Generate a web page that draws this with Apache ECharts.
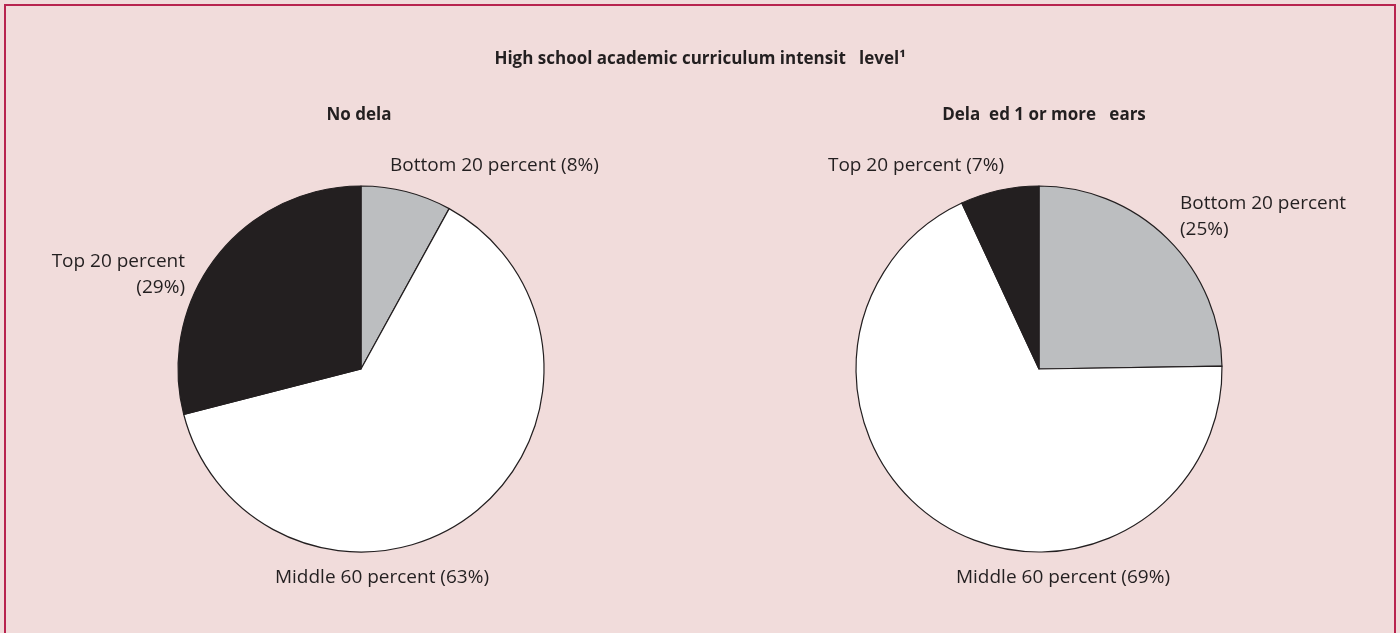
<!DOCTYPE html>
<html>
<head>
<meta charset="utf-8">
<style>
  html, body { margin: 0; padding: 0; background: #fff; }
  #chart { width: 1400px; height: 633px; }
</style>
<script src="https://cdn.jsdelivr.net/npm/echarts@6/dist/echarts.min.js"></script>
</head>
<body>
<div id="chart"></div>
<script>
// data
const categories = ['Bottom 20 percent', 'Middle 60 percent', 'Top 20 percent'];
const noDelayValues = [8, 63, 29];
const delayedValues = [25, 69, 7];
const noDelayLabels = ['Bottom 20 percent (8%)', 'Middle 60 percent (63%)', 'Top 20 percent\n(29%)'];
const delayedLabels = ['Bottom 20 percent\n(25%)', 'Middle 60 percent (69%)', 'Top 20 percent (7%)'];
const sliceColors = ['#bcbec0', '#ffffff', '#231f20'];

const FONT = '"Open Sans", sans-serif';

// label anchors per series / slice (x, y, align)
const labelSpots = [
  [[390, 166, 'left'], [382, 578, 'center'], [185, 275, 'right']],
  [[1180, 217, 'left'], [1063, 578, 'center'], [1004, 166, 'right']]
];

function buildData(values, labels) {
  return values.map((v, i) => ({
    name: categories[i],
    value: v,
    label: { formatter: labels[i] },
    itemStyle: { color: sliceColors[i] }
  }));
}

function pieSeries(idx, center, values, labels) {
  return {
    type: 'pie',
    center: center,
    radius: 183,
    startAngle: 90,
    clockwise: true,
    silent: true,
    animation: false,
    data: buildData(values, labels),
    itemStyle: { borderColor: '#231f20', borderWidth: 1.2 },
    label: {
      show: true,
      position: 'outside',
      color: '#231f20',
      fontFamily: FONT,
      fontSize: 19,
      lineHeight: 26
    },
    labelLine: { show: false },
    labelLayout: function (p) {
      const s = labelSpots[idx][p.dataIndex];
      return { x: s[0], y: s[1], align: s[2], verticalAlign: 'middle' };
    }
  };
}

const headStyle = { fontFamily: FONT, fontWeight: 'bold', fontSize: 17, color: '#231f20' };

const chart = echarts.init(document.getElementById('chart'));
chart.setOption({
  backgroundColor: '#f1dcdb',
  title: [
    { text: 'High school academic curriculum intensit   level¹', left: 'center', top: 46, textStyle: headStyle },
    { text: 'No dela', left: 354, top: 102, textAlign: 'center', textStyle: headStyle },
    { text: 'Dela  ed 1 or more   ears', left: 1039, top: 102, textAlign: 'center', textStyle: headStyle }
  ],
  graphic: [{
    type: 'rect',
    shape: { x: 5, y: 5, width: 1390, height: 700 },
    style: { fill: 'none', stroke: '#b8244f', lineWidth: 2 },
    silent: true
  }],
  series: [
    pieSeries(0, [361, 369], noDelayValues, noDelayLabels),
    pieSeries(1, [1039, 369], delayedValues, delayedLabels)
  ]
});
</script>
</body>
</html>
